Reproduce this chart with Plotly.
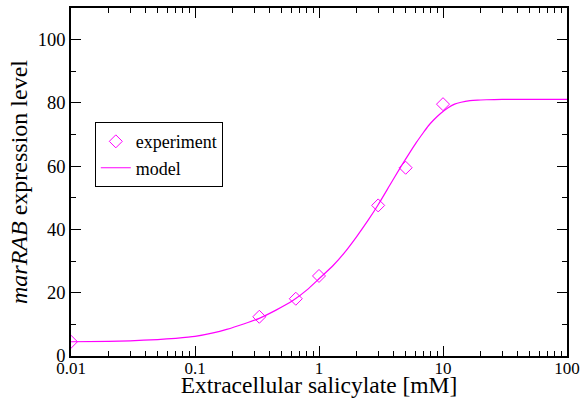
import plotly.graph_objects as go

# experiment data
exp_x = [0.01, 0.33, 0.65, 1.0, 3.0, 5.0, 10.0]
exp_y = [4.5, 12.4, 18.1, 25.3, 47.6, 59.5, 79.6]

# model curve
model_x = [0.01, 0.02, 0.03, 0.05, 0.07, 0.1, 0.14, 0.18, 0.25, 0.33, 0.45, 0.62, 0.8,
           1.0, 1.3, 1.6, 2.0, 2.5, 3.0, 3.7, 4.5, 5.3, 6.1, 7.0, 7.6, 8.4, 9.5,
           11.0, 12.4, 14.0, 16.5, 19.0, 22.4, 30.0, 40.0, 60.0, 100.0]
model_y = [4.5, 4.6, 4.8, 5.2, 5.6, 6.2, 7.3, 8.4, 10.2, 11.9, 14.5, 17.6, 20.9,
           24.4, 28.6, 32.6, 37.6, 43.0, 47.8, 53.8, 59.4, 63.8, 67.5, 70.8, 72.7, 74.6, 76.6,
           78.5, 79.6, 80.2, 80.7, 80.9, 81.0, 81.1, 81.1, 81.1, 81.1]

x_ticks = [0.01, 0.1, 1, 10, 100]
x_labels = ["0.01", "0.1", "1", "10", "100"]
x_minor = [m * d for d in (0.01, 0.1, 1, 10) for m in range(2, 10)]

MAG = "#ff00ff"
FONT = "Liberation Serif"

fig = go.Figure()
fig.add_trace(go.Scatter(
    x=exp_x, y=exp_y, mode="markers", name="experiment",
    marker=dict(symbol="diamond-open", size=10, color=MAG, line=dict(width=1, color=MAG)),
))
fig.add_trace(go.Scatter(
    x=model_x, y=model_y, mode="lines", name="model",
    line=dict(color=MAG, width=1.2, shape="spline", smoothing=0.5),
))

axis_common = dict(
    showgrid=False, zeroline=False, showline=True, linecolor="black", linewidth=1.5,
    ticks="inside", ticklen=10, tickwidth=1.2, tickcolor="black", mirror="ticks",
)

fig.update_xaxes(
    type="log", range=[-2, 2], tickvals=x_ticks, ticktext=x_labels,
    tickfont=dict(family=FONT, size=17, color="black"),
    minor=dict(tickvals=x_minor, ticks="inside", ticklen=5, tickcolor="black", tickwidth=1, showgrid=False),
    title=dict(text="Extracellular salicylate [mM]", font=dict(family=FONT, size=23.5, color="black"), standoff=8),
    ticklabelstandoff=-4,
    **axis_common,
)
fig.update_yaxes(
    range=[0, 110], dtick=20, tick0=0,
    tickfont=dict(family=FONT, size=18.5, color="black"),
    minor=dict(ticks="inside", ticklen=5, dtick=10, tickcolor="black", tickwidth=1, showgrid=False),
    title=dict(text="<i>marRAB</i> expression level", font=dict(family=FONT, size=24, color="black"), standoff=3),
    **axis_common,
)

fig.update_layout(
    width=587, height=398,
    margin=dict(l=71, r=20, t=8, b=42, autoexpand=False),
    paper_bgcolor="white", plot_bgcolor="white",
    legend=dict(
        x=0.048, y=0.672, xanchor="left", yanchor="top",
        bordercolor="black", borderwidth=1, bgcolor="white",
        font=dict(family=FONT, size=18, color="black"),
        tracegroupgap=0, itemwidth=30,
    ),
    showlegend=True,
)

fig.write_html("out.html", config={"displayModeBar": False},
               post_script="document.body.style.margin='0';document.body.style.overflow='hidden';")
